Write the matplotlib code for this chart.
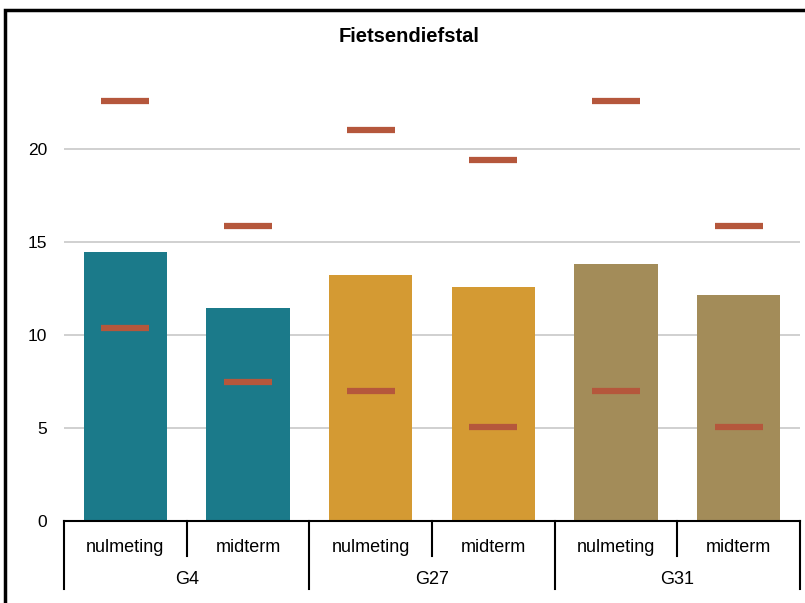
import matplotlib.pyplot as plt
import matplotlib.transforms as mtransforms
from matplotlib.patches import Rectangle

plt.rcParams['font.family'] = ['Liberation Sans', 'DejaVu Sans']

groups = ['G4', 'G27', 'G31']
phases = ['nulmeting', 'midterm']
bar_values = [14.45, 11.45, 13.25, 12.6, 13.8, 12.15]
upper_values = [22.6, 15.85, 21.0, 19.4, 22.6, 15.85]
lower_values = [10.35, 7.5, 7.0, 5.05, 7.0, 5.05]
group_colors = ['#1b7a8a', '#d49a33', '#a38c59']
marker_color = '#b5573c'


def main():
    fig = plt.figure(figsize=(8.05, 6.03), dpi=100)
    ax = fig.add_axes([64 / 805, 1 - 521 / 603, 736 / 805, (521 - 56) / 603])

    n = len(bar_values)
    x = list(range(n))
    colors = [group_colors[i // 2] for i in range(n)]
    ax.bar(x, bar_values, width=0.68, color=colors, zorder=2)
    ax.hlines(upper_values, [i - 0.195 for i in x], [i + 0.195 for i in x],
              color=marker_color, lw=4.5, zorder=3)
    ax.hlines(lower_values, [i - 0.195 for i in x], [i + 0.195 for i in x],
              color=marker_color, lw=4.5, zorder=3)

    ax.set_xlim(-0.5, n - 0.5)
    ax.set_ylim(0, 25)
    ax.set_yticks([0, 5, 10, 15, 20])
    ax.yaxis.grid(True, color='#c8c8c8', lw=1.2, zorder=0)
    ax.tick_params(axis='y', length=0, pad=12, labelsize=12.5)
    ax.set_xticks([])
    for s in ['top', 'right', 'left']:
        ax.spines[s].set_visible(False)
    ax.spines['bottom'].set_linewidth(1.5)

    trans = mtransforms.blended_transform_factory(ax.transData, fig.transFigure)
    y0 = 1 - 521 / 603
    y_small = 1 - 556 / 603
    y_big = 1 - 589 / 603
    for i in range(n + 1):
        xb = i - 0.5
        yb = y_big if i % 2 == 0 else y_small
        ax.plot([xb, xb], [y0, yb], color='black', lw=1.5, transform=trans, clip_on=False)
    for i in range(n):
        ax.text(i, 1 - 547 / 603, phases[i % 2], transform=trans, ha='center', va='center', fontsize=13)
    for g, name in enumerate(groups):
        ax.text(2 * g + 0.5, 1 - 579 / 603, name, transform=trans, ha='center', va='center', fontsize=13)

    fig.text(409 / 805, 1 - 36 / 603, 'Fietsendiefstal', ha='center', va='center',
             fontsize=14.5, fontweight='bold')

    fig.patches.append(Rectangle((5 / 805, -0.1), 1.2, 1 - 10 / 603 + 0.1, transform=fig.transFigure,
                                 fill=False, ec='black', lw=2.5))

    fig.savefig('out.png', dpi=100)


if __name__ == '__main__':
    main()
